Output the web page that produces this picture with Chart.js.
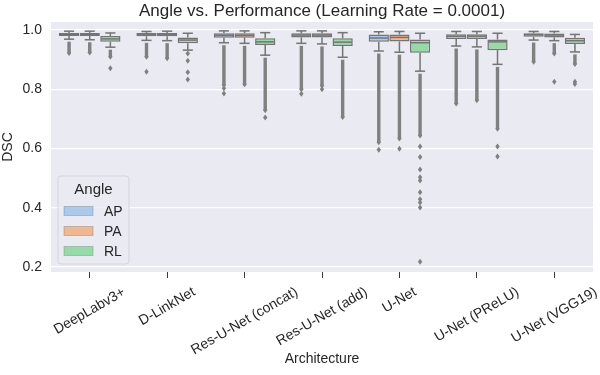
<!DOCTYPE html>
<html lang="en">
<head>
<meta charset="UTF-8">
<title>Angle vs. Performance</title>
<script src="https://cdn.jsdelivr.net/npm/chart.js"></script>
<style>
  body { margin: 0; background: #ffffff; }
  .chart-container { width: 600px; height: 375px; }
</style>
</head>
<body>
<div class="chart-container"><canvas id="boxChart"></canvas></div>
<script>
const architectures = ['DeepLabv3+', 'D-LinkNet', 'Res-U-Net (concat)', 'Res-U-Net (add)', 'U-Net', 'U-Net (PReLU)', 'U-Net (VGG19)'];
const angles = ['AP', 'PA', 'RL'];
const angleColors = ['#abc9ea', '#efb792', '#98daa7'];
const yTicks = [0.2, 0.4, 0.6, 0.8, 1.0];
const chartTitle = 'Angle vs. Performance (Learning Rate = 0.0001)';

// one row per angle (AP, PA, RL), one value per architecture
const whiskerHigh = [
    [0.996, 0.995, 0.997, 0.997, 0.994, 0.995, 0.995],
    [0.996, 0.996, 0.997, 0.997, 0.995, 0.995, 0.995],
    [0.990, 0.989, 0.991, 0.991, 0.989, 0.989, 0.985]
];
const q3 = [
    [0.990, 0.990, 0.989, 0.989, 0.985, 0.986, 0.989],
    [0.990, 0.990, 0.989, 0.989, 0.985, 0.986, 0.988],
    [0.980, 0.975, 0.972, 0.972, 0.968, 0.968, 0.974]
];
const medians = [
    [0.986, 0.986, 0.982, 0.983, 0.973, 0.979, 0.984],
    [0.986, 0.986, 0.982, 0.983, 0.975, 0.979, 0.983],
    [0.970, 0.966, 0.960, 0.959, 0.957, 0.960, 0.964]
];
const q1 = [
    [0.980, 0.979, 0.974, 0.975, 0.960, 0.970, 0.977],
    [0.980, 0.979, 0.974, 0.975, 0.961, 0.970, 0.975],
    [0.960, 0.955, 0.949, 0.946, 0.923, 0.932, 0.953]
];
const whiskerLow = [
    [0.969, 0.965, 0.957, 0.955, 0.929, 0.946, 0.966],
    [0.967, 0.964, 0.955, 0.953, 0.925, 0.943, 0.964],
    [0.942, 0.932, 0.915, 0.908, 0.861, 0.884, 0.926]
];
// lowest value of the packed run of outliers under each lower whisker
const denseOutlierEnd = [
    [0.922, 0.910, 0.814, 0.800, 0.621, 0.752, 0.893],
    [0.924, 0.905, 0.817, 0.812, 0.634, 0.763, 0.921],
    [0.910, 0.921, 0.729, 0.706, 0.644, 0.667, 0.885]
];
// separate outliers below the packed run
const looseOutliers = [
    [[], [0.859], [0.803, 0.786], [0.785], [0.596], [], []],
    [[], [], [], [0.800], [0.599], [], [0.825]],
    [[0.871], [0.896, 0.857, 0.833], [0.705], [], [0.607, 0.571, 0.529, 0.503, 0.492, 0.452, 0.429, 0.418, 0.401, 0.218], [0.607, 0.573], [0.825, 0.818]]
];

const textColor = '#262626';
const lineGray = '#747474';
const flierGray = '#808080';
const fontFamily = '"Liberation Sans", Arial, sans-serif';

function diamond(ctx, x, y, w, h) {
    ctx.beginPath();
    ctx.moveTo(x, y - h);
    ctx.lineTo(x + w, y);
    ctx.lineTo(x, y + h);
    ctx.lineTo(x - w, y);
    ctx.closePath();
    ctx.fill();
}

function line(ctx, x1, y1, x2, y2) {
    ctx.beginPath();
    ctx.moveTo(x1, y1);
    ctx.lineTo(x2, y2);
    ctx.stroke();
}

const boxExtras = {
    id: 'boxExtras',
    beforeDraw(chart) {
        const a = chart.chartArea;
        const ctx = chart.ctx;
        ctx.save();
        ctx.fillStyle = '#eaeaf2';
        ctx.fillRect(a.left, a.top, a.right - a.left, a.bottom - a.top);
        ctx.restore();
    },
    afterDatasetsDraw(chart) {
        const ctx = chart.ctx;
        const ys = chart.scales.y;
        const xs = chart.scales.x;
        const a = chart.chartArea;
        ctx.save();
        ctx.strokeStyle = lineGray;
        ctx.lineWidth = 1.5;
        chart.data.datasets.forEach((ds, h) => {
            chart.getDatasetMeta(h).data.forEach((bar, i) => {
                const x = bar.x;
                const half = bar.width / 2;
                const cap = bar.width / 4;
                const yHi = ys.getPixelForValue(whiskerHigh[h][i]);
                const yLo = ys.getPixelForValue(whiskerLow[h][i]);
                line(ctx, x, ys.getPixelForValue(q3[h][i]), x, yHi);
                line(ctx, x - cap, yHi, x + cap, yHi);
                line(ctx, x, ys.getPixelForValue(q1[h][i]), x, yLo);
                line(ctx, x - cap, yLo, x + cap, yLo);
                const yMed = ys.getPixelForValue(medians[h][i]);
                line(ctx, x - half + 0.75, yMed, x + half - 0.75, yMed);

                // packed outliers
                ctx.fillStyle = flierGray;
                const yTop = yLo + 2.5;
                const yEnd = ys.getPixelForValue(denseOutlierEnd[h][i]);
                ctx.fillRect(x - 1.7, yTop, 3.4, yEnd - yTop);
                diamond(ctx, x, yEnd, 2.2, 3);
                looseOutliers[h][i].forEach(v => {
                    diamond(ctx, x, ys.getPixelForValue(v), 2.2, 3);
                });
            });
        });

        // title centred over the plot
        ctx.fillStyle = textColor;
        ctx.font = '17px ' + fontFamily;
        ctx.textAlign = 'center';
        ctx.textBaseline = 'middle';
        ctx.fillText(chartTitle, (a.left + a.right) / 2, 11);

        // x tick labels, rotated 30 degrees and centred on the tick
        ctx.font = '14px ' + fontFamily;
        const labelTop = 285;
        architectures.forEach((name, i) => {
            const tx = xs.getPixelForValue(i);
            const w = ctx.measureText(name).width;
            const boxH = w * Math.sin(Math.PI / 6) + 14 * Math.cos(Math.PI / 6);
            ctx.save();
            ctx.translate(tx, labelTop + boxH / 2);
            ctx.rotate(-Math.PI / 6);
            ctx.fillText(name, 0, 0);
            ctx.restore();
        });

        // legend
        const lx = 58, ly = 176, lw = 71, lh = 88;
        ctx.beginPath();
        ctx.roundRect(lx, ly, lw, lh, 3);
        ctx.fillStyle = 'rgba(234,234,242,0.8)';
        ctx.fill();
        ctx.strokeStyle = '#d4d4dc';
        ctx.lineWidth = 1;
        ctx.stroke();
        ctx.fillStyle = textColor;
        ctx.font = '15px ' + fontFamily;
        ctx.textAlign = 'center';
        ctx.fillText('Angle', lx + lw / 2, ly + 14);
        ctx.font = '14px ' + fontFamily;
        ctx.textAlign = 'left';
        angles.forEach((name, k) => {
            const cy = 211 + k * 20;
            ctx.fillStyle = angleColors[k];
            ctx.fillRect(64, cy - 4.5, 29, 9);
            ctx.strokeStyle = 'rgba(112,112,112,0.35)';
            ctx.strokeRect(64, cy - 4.5, 29, 9);
            ctx.fillStyle = textColor;
            ctx.fillText(name, 104, cy + 1);
        });
        ctx.restore();
    }
};

const ctx = document.getElementById('boxChart').getContext('2d');
new Chart(ctx, {
    type: 'bar',
    data: {
        labels: architectures,
        datasets: angles.map((name, h) => ({
            label: name,
            data: architectures.map((_, i) => [q1[h][i], q3[h][i]]),
            backgroundColor: angleColors[h],
            borderColor: lineGray,
            borderWidth: 1.5,
            borderSkipped: false,
            categoryPercentage: 0.8,
            barPercentage: 0.98
        }))
    },
    options: {
        responsive: true,
        maintainAspectRatio: false,
        animation: false,
        layout: { padding: { left: 0, right: 7, top: 22, bottom: 0 } },
        plugins: {
            legend: { display: false },
            tooltip: { enabled: false },
            title: { display: false }
        },
        scales: {
            x: {
                grid: { display: true, drawOnChartArea: false, drawTicks: true, tickLength: 6, color: '#3a3a3a', offset: false },
                border: { display: false },
                ticks: { display: false },
                title: { display: true, text: 'Architecture', color: textColor, font: { size: 14, family: fontFamily }, padding: { top: 2, bottom: 7 } },
                afterFit: s => { s.height = 103; }
            },
            y: {
                min: 0.183,
                max: 1.027,
                afterBuildTicks: s => { s.ticks = yTicks.map(v => ({ value: v })); },
                ticks: { callback: v => v.toFixed(1), color: textColor, font: { size: 14, family: fontFamily }, padding: 9 },
                grid: { color: '#ffffff', lineWidth: 1.3, drawTicks: false },
                border: { display: false },
                title: { display: true, text: 'DSC', color: textColor, font: { size: 14, family: fontFamily }, padding: { top: 0, bottom: 2 } },
                afterFit: s => { s.width = 51; }
            }
        }
    },
    plugins: [boxExtras]
});
</script>
</body>
</html>
